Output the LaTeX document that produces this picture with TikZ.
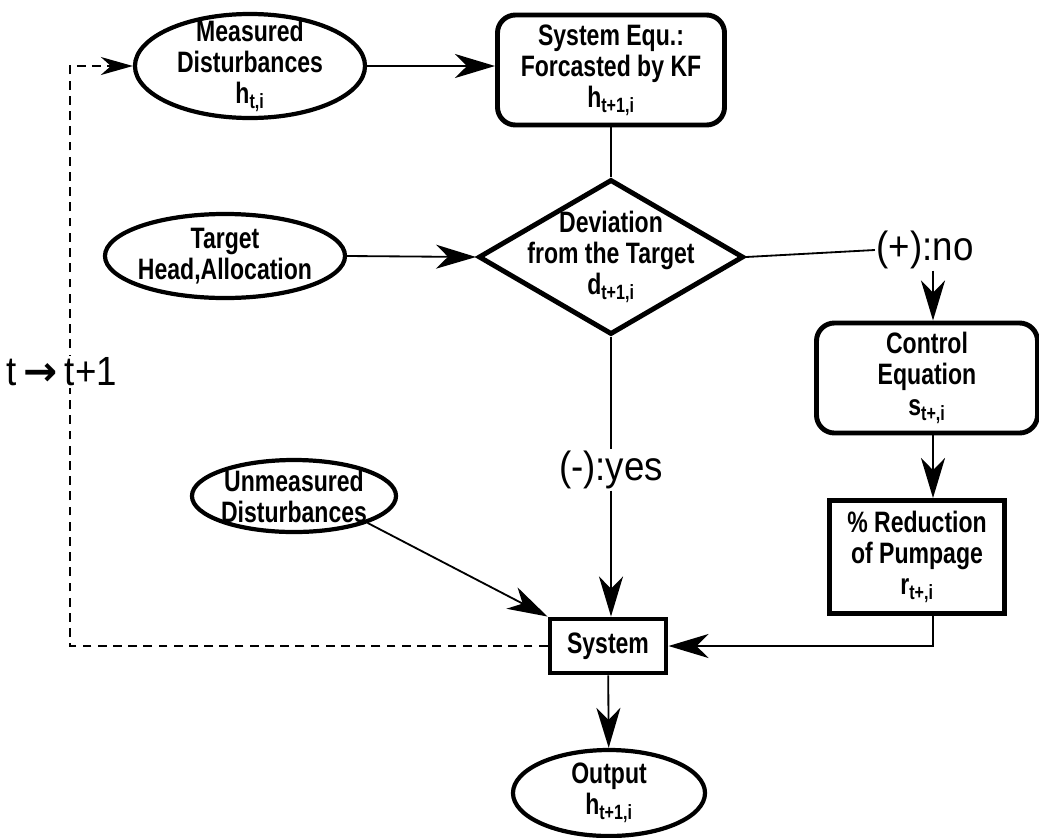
\documentclass[tikz,border=0pt]{standalone}
\usepackage{fontspec}
\setmainfont{Liberation Sans}[FakeStretch=0.78]
\newfontfamily\lblfont{Liberation Sans}[FakeStretch=0.9]
\newfontfamily\arrowfont{DejaVu Sans}
\usetikzlibrary{shapes.geometric,arrows.meta}

\tikzset{
	boxtext/.style={font=\bfseries\fontsize{21}{22}\selectfont, align=center},
	oval/.style={ellipse, draw, line width=3pt, inner sep=0pt},
	rbox/.style={draw, line width=3.5pt, rounded corners=0.45cm, inner sep=0pt, boxtext},
	sbox/.style={draw, line width=3.5pt, inner sep=0pt, boxtext},
	decide/.style={diamond, draw, line width=3.5pt, inner sep=0pt},
	inlabel/.style={label={[boxtext]center:{#1}}},
	cond/.style={font=\lblfont\fontsize{29}{29}\selectfont, inner sep=1pt},
	arr/.style={-{Stealth[length=1cm,width=0.6cm,inset=0.3cm]}, line width=1.3pt},
	link/.style={line width=1.3pt},
	fb/.style={dash pattern=on 0.22cm off 0.16cm, line width=1.3pt,
		-{Stealth[length=0.8cm,width=0.45cm,inset=0.25cm]}}
}

\begin{document}
\begin{tikzpicture}[x=0.025cm, y=-0.025cm]
	\useasboundingbox (0,0) rectangle (1039,837);
	\node[oval, minimum width=5.75cm, minimum height=2.6cm,
		inlabel={Measured\\Disturbances\\h\textsubscript{t,i}}] (meas) at (250,66) {};
	\node[rbox, minimum width=5.675cm, minimum height=2.75cm] (sysequ) at (611,70)
		{System Equ.:\\Forcasted by KF\\h\textsubscript{t+1,i}};
	\node[oval, minimum width=6cm, minimum height=2.1cm,
		inlabel={Target\\Head,Allocation}] (target) at (225,256) {};
	\node[decide, minimum width=6.625cm, minimum height=3.875cm,
		inlabel={Deviation\\from the Target\\d\textsubscript{t+1,i}}] (dev) at (611,257) {};
	\node[cond] (plus) at (925,250) {(+):no};
	\node[rbox, minimum width=5.525cm, minimum height=2.75cm] (ctrl) at (927,378)
		{Control\\Equation\\s\textsubscript{t+,i}};
	\node[sbox, minimum width=4.375cm, minimum height=2.825cm] (red) at (917,557)
		{\%\ Reduction\\of Pumpage\\r\textsubscript{t+,i}};
	\node[cond] (yes) at (611,470) {(-):yes};
	\node[oval, minimum width=5.1cm, minimum height=1.8cm,
		inlabel={Unmeasured\\Disturbances}] (unm) at (294,496) {};
	\node[sbox, minimum width=2.9cm, minimum height=1.35cm] (sys) at (608,646) {System};
	\node[oval, minimum width=4.8cm, minimum height=2.15cm,
		inlabel={Output\\h\textsubscript{t+1,i}}] (out) at (609,793) {};
	\coordinate (col) at (933,0);
	\coordinate (back) at (70,66);

	\path[link]
	(sysequ) edge (dev)
	(dev.east) edge (plus.west)
	(dev) edge (yes);
	\path[arr]
	(meas.east) edge (sysequ.west |- meas.east)
	(target.east) edge (dev.west)
	(plus.south -| col) edge (ctrl.north -| col)
	(ctrl.south -| col) edge (red.north -| col)
	(yes.south) edge (yes.south |- sys.north)
	(unm.south east) edge (sys.north west)
	(sys) edge (out);
	\draw[arr] (red.south -| col) |- (sys.east);
	\draw[fb] (sys.west) -| (back) -- (meas.west);

	\node[cond, fill=white] (tstep) at (62,372) {t\,{\arrowfont\bfseries →}\,t+1};
\end{tikzpicture}
\end{document}
